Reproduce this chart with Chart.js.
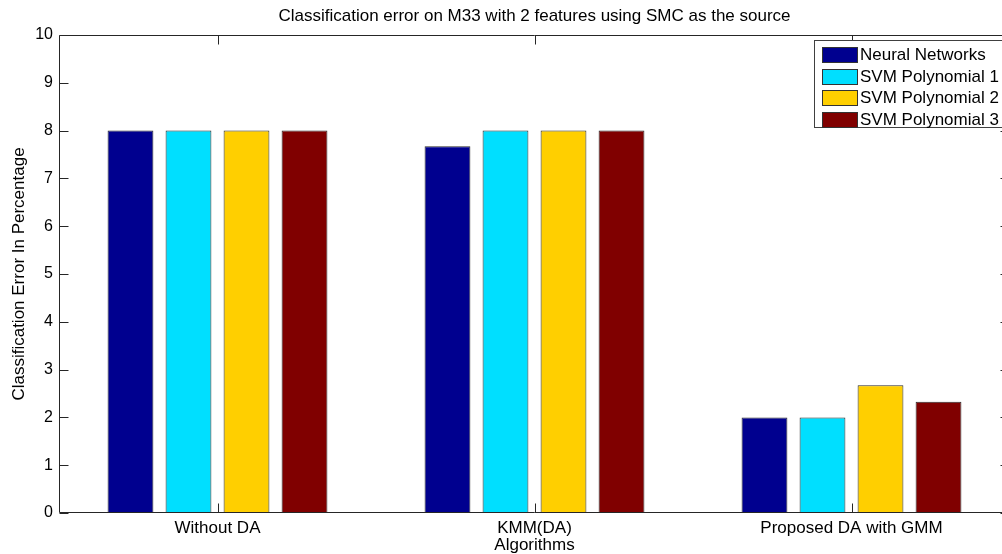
<!DOCTYPE html>
<html>
<head>
<meta charset="utf-8">
<script src="https://cdn.jsdelivr.net/npm/chart.js@4.4.1/dist/chart.umd.min.js"></script>
<style>
  html, body { margin: 0; padding: 0; background: #fff; overflow: hidden; }
  #wrap { width: 1012px; height: 554px; }
</style>
</head>
<body>
<div id="wrap"><canvas id="c" width="1012" height="554"></canvas></div>
<script>
const categories = ["Without DA", "KMM(DA)", "Proposed DA with GMM"];
const seriesNames = ["Neural Networks", "SVM Polynomial 1", "SVM Polynomial 2", "SVM Polynomial 3"];
const neuralNetworks = [8, 7.67, 2];
const svmPoly1 = [8, 8, 2];
const svmPoly2 = [8, 8, 2.67];
const svmPoly3 = [8, 8, 2.33];
const seriesColors = ["#00008f", "#00dfff", "#ffcf00", "#800000"];
const yTicks = [0, 1, 2, 3, 4, 5, 6, 7, 8, 9, 10];
const chartTitle = "Classification error on M33 with 2 features using SMC as the source";
const xTitle = "Algorithms";
const yTitle = "Classification Error In Percentage";

const FONT = "'Liberation Sans', Arial, sans-serif";
const seriesValues = [neuralNetworks, svmPoly1, svmPoly2, svmPoly3];

const framePlugin = {
  id: 'frame',
  afterDatasetsDraw(chart) {
    const ctx = chart.ctx, a = chart.chartArea;
    const xs = chart.scales.x, ys = chart.scales.y;
    ctx.save();
    ctx.strokeStyle = '#262626';
    ctx.lineWidth = 1;
    ctx.beginPath();
    const L = Math.round(a.left) + 0.5, R = Math.round(a.right) - 0.5;
    const T = Math.round(a.top) + 0.5, B = Math.round(a.bottom) - 0.5;
    ctx.rect(L, T, R - L, B - T);
    yTicks.forEach(v => {
      const y = Math.round(ys.getPixelForValue(v)) + 0.5;
      ctx.moveTo(L, y); ctx.lineTo(L + 9, y);
      ctx.moveTo(R, y); ctx.lineTo(R - 9, y);
    });
    categories.forEach((c, i) => {
      const x = Math.round(xs.getPixelForValue(i)) + 0.5;
      ctx.moveTo(x, B); ctx.lineTo(x, B - 9);
      ctx.moveTo(x, T); ctx.lineTo(x, T + 9);
    });
    ctx.stroke();
    ctx.restore();
  }
};

const legendPlugin = {
  id: 'matlabLegend',
  afterDraw(chart) {
    const ctx = chart.ctx;
    const bx = 814.5, by = 40.5, bw = 192, bh = 87;
    ctx.save();
    ctx.fillStyle = '#fff';
    ctx.fillRect(bx, by, bw, bh);
    ctx.strokeStyle = '#404040';
    ctx.lineWidth = 1;
    ctx.strokeRect(bx, by, bw, bh);
    ctx.font = "17px " + FONT;
    ctx.textBaseline = 'middle';
    ctx.textAlign = 'left';
    chart.data.datasets.forEach((ds, i) => {
      const sy = 47 + i * 21.7;
      ctx.fillStyle = ds.backgroundColor;
      ctx.fillRect(822, Math.round(sy), 36, 16);
      ctx.strokeStyle = '#333';
      ctx.strokeRect(822.5, Math.round(sy) + 0.5, 35, 15);
      ctx.fillStyle = '#000';
      ctx.fillText(ds.label, 860, Math.round(sy) + 8.5);
    });
    ctx.restore();
  }
};

new Chart(document.getElementById('c'), {
  type: 'bar',
  data: {
    labels: categories,
    datasets: seriesNames.map((n, i) => ({
      label: n,
      data: seriesValues[i],
      backgroundColor: seriesColors[i],
      borderColor: '#2a2a2a',
      borderWidth: 1,
      borderSkipped: 'bottom',
      categoryPercentage: 0.732,
      barPercentage: 0.79
    }))
  },
  options: {
    responsive: false,
    animation: false,
    devicePixelRatio: 1,
    layout: { padding: { top: 0, right: 2, left: 0, bottom: 0 } },
    plugins: {
      legend: { display: false },
      tooltip: { enabled: false },
      title: {
        display: true,
        fullSize: false,
        text: chartTitle,
        color: '#000',
        font: { family: FONT, size: 17, weight: 'normal' },
        padding: { top: 6, bottom: 8.6 }
      }
    },
    scales: {
      x: {
        grid: { display: false, drawTicks: false },
        border: { display: false },
        ticks: { color: '#000', font: { family: FONT, size: 17 }, padding: 5, maxRotation: 0, autoSkip: false },
        title: { display: true, text: xTitle, color: '#000', font: { family: FONT, size: 17 }, padding: { top: 0, bottom: -2 } },
        afterFit(s) { s.height = 41; }
      },
      y: {
        min: 0, max: 10,
        grid: { display: false, drawTicks: false },
        border: { display: false },
        afterBuildTicks(s) { s.ticks = yTicks.map(v => ({ value: v })); },
        ticks: { color: '#000', font: { family: FONT, size: 16 }, padding: 6 },
        title: { display: true, text: yTitle, color: '#000', font: { family: FONT, size: 17 }, padding: { top: 9, bottom: 0 } },
        afterFit(s) { s.width = 59; }
      }
    }
  },
  plugins: [framePlugin, legendPlugin]
});
</script>
</body>
</html>
